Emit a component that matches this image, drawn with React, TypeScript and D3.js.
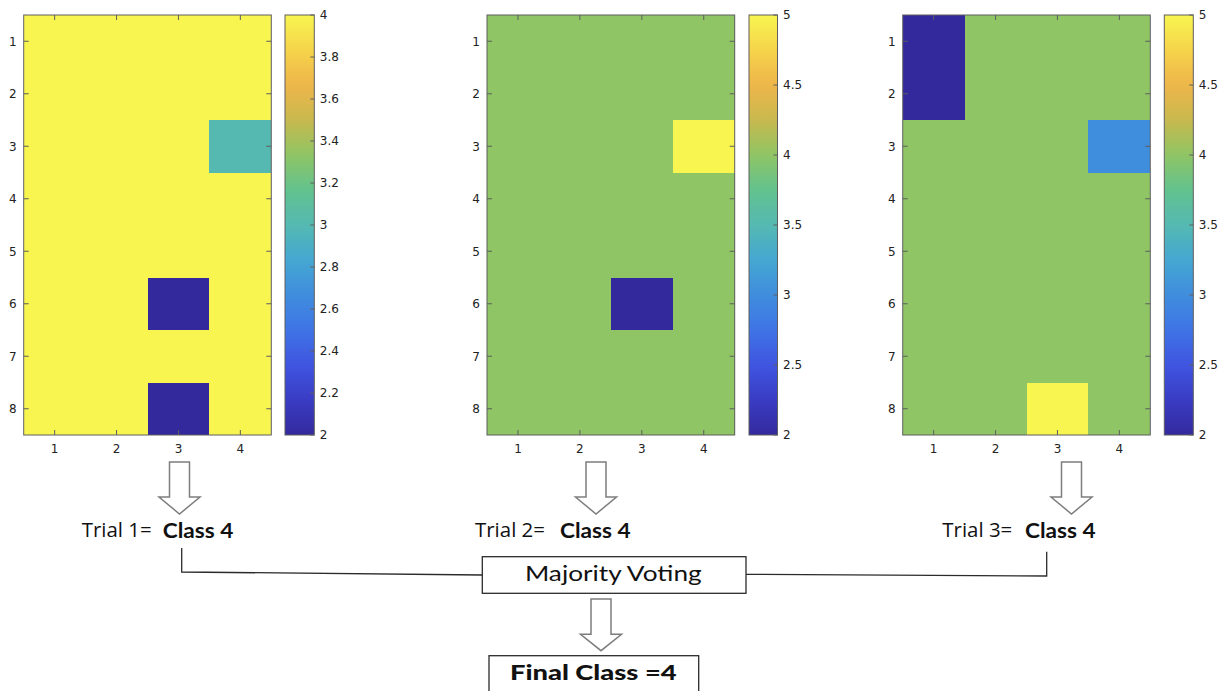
import React from "react";
import * as d3 from "d3";

// ---------- data ----------
const rowLabels = [1, 2, 3, 4, 5, 6, 7, 8];
const colLabels = [1, 2, 3, 4];

const trial1 = [
  [4, 4, 4, 4],
  [4, 4, 4, 4],
  [4, 4, 4, 3],
  [4, 4, 4, 4],
  [4, 4, 4, 4],
  [4, 4, 2, 4],
  [4, 4, 4, 4],
  [4, 4, 2, 4],
];
const trial2 = [
  [4, 4, 4, 4],
  [4, 4, 4, 4],
  [4, 4, 4, 5],
  [4, 4, 4, 4],
  [4, 4, 4, 4],
  [4, 4, 2, 4],
  [4, 4, 4, 4],
  [4, 4, 4, 4],
];
const trial3 = [
  [2, 4, 4, 4],
  [2, 4, 4, 4],
  [4, 4, 4, 3],
  [4, 4, 4, 4],
  [4, 4, 4, 4],
  [4, 4, 4, 4],
  [4, 4, 4, 4],
  [4, 4, 5, 4],
];

const domain1 = [2, 4];
const domain2 = [2, 5];
const domain3 = [2, 5];
const cbTicks1 = [2, 2.2, 2.4, 2.6, 2.8, 3, 3.2, 3.4, 3.6, 3.8, 4];
const cbTicks2 = [2, 2.5, 3, 3.5, 4, 4.5, 5];
const cbTicks3 = [2, 2.5, 3, 3.5, 4, 4.5, 5];

const trialLabels = ["Trial 1=", "Trial 2=", "Trial 3="];
const trialClasses = ["Class 4", "Class 4", "Class 4"];
const votingLabel = "Majority Voting";
const finalLabel = "Final Class =4";

// parula-like colormap
const cmapPos = [0, 0.083, 0.167, 0.25, 0.333, 0.417, 0.5, 0.583, 0.667, 0.75, 0.833, 0.917, 1];
const cmapCol = [
  "#33299c", "#3a3cc4", "#3f55e0", "#3f74e6", "#3f8ddd", "#45a7d2", "#55b9b2",
  "#62c28e", "#8fc564", "#c8b94e", "#eeb54a", "#f5d44a", "#f8f550",
];
const cmap = d3.scaleLinear<string>().domain(cmapPos).range(cmapCol).interpolate(d3.interpolateRgb).clamp(true);

// ---------- layout ----------
const W = 1223;
const H = 691;
const plotTop = 15;
const plotBottom = 435;
const axisCol = "#5e5e5e";
const tickTextCol = "#222";
const tickFont = "'DejaVu Sans', sans-serif";
const tickSize = 12;

const panels = [
  { data: trial1, domain: domain1, ticks: cbTicks1, px: [23.7, 271.3], cx: [285, 314.3] },
  { data: trial2, domain: domain2, ticks: cbTicks2, px: [487, 734.7], cx: [749, 777.5] },
  { data: trial3, domain: domain3, ticks: cbTicks3, px: [902.7, 1150.3], cx: [1164.3, 1193.3] },
];

const arrowCenters = [179.5, 596, 1071.5];

function HollowArrow({ cx, top, headTop, tip }: { cx: number; top: number; headTop: number; tip: number }) {
  const sw = 10;
  const hw = 20.5;
  const pts = [
    [cx - sw, top],
    [cx + sw, top],
    [cx + sw, headTop],
    [cx + hw, headTop],
    [cx, tip],
    [cx - hw, headTop],
    [cx - sw, headTop],
  ];
  return (
    <polygon
      points={pts.map((p) => p.join(",")).join(" ")}
      fill="#fff"
      stroke="#7d7d7d"
      strokeWidth={1.5}
      strokeLinejoin="miter"
    />
  );
}

function Panel({ p, idx }: { p: (typeof panels)[number]; idx: number }) {
  const x = d3.scaleBand<number>().domain(colLabels).range([p.px[0], p.px[1]]);
  const y = d3.scaleBand<number>().domain(rowLabels).range([plotTop, plotBottom]);
  const norm = d3.scaleLinear().domain(p.domain).range([0, 1]);
  const cbY = d3.scaleLinear().domain(p.domain).range([plotBottom, plotTop]);
  const fmt = d3.format("~g");
  const gradId = `cbgrad${idx}`;
  const gradStops = d3.range(0, 1.0001, 0.02);
  const tl = 5;
  return (
    <g>
      <defs>
        <linearGradient id={gradId} x1="0" y1="1" x2="0" y2="0">
          {gradStops.map((t, i) => (
            <stop key={i} offset={t} stopColor={cmap(t)} />
          ))}
        </linearGradient>
      </defs>
      <g shapeRendering="crispEdges">
        {p.data.map((row, ri) =>
          row.map((v, ci) => (
            <rect
              key={`${ri}-${ci}`}
              x={x(colLabels[ci])!}
              y={y(rowLabels[ri])!}
              width={x.bandwidth() + (ci < colLabels.length - 1 ? 1 : 0)}
              height={y.bandwidth() + (ri < rowLabels.length - 1 ? 1 : 0)}
              fill={cmap(norm(v))}
            />
          ))
        )}
      </g>
      {/* ticks inside */}
      {colLabels.map((c) => {
        const cx = x(c)! + x.bandwidth() / 2;
        return (
          <g key={`xt${c}`}>
            <line x1={cx} x2={cx} y1={plotBottom} y2={plotBottom - tl} stroke={axisCol} strokeWidth={1} />
            <line x1={cx} x2={cx} y1={plotTop} y2={plotTop + tl} stroke={axisCol} strokeWidth={1} />
            <text
              x={cx}
              y={452.5}
              textAnchor="middle"
              fontFamily={tickFont}
              fontSize={tickSize}
              fill={tickTextCol}
            >
              {c}
            </text>
          </g>
        );
      })}
      {rowLabels.map((r) => {
        const cy = y(r)! + y.bandwidth() / 2;
        return (
          <g key={`yt${r}`}>
            <line x1={p.px[0]} x2={p.px[0] + tl} y1={cy} y2={cy} stroke={axisCol} strokeWidth={1} />
            <line x1={p.px[1]} x2={p.px[1] - tl} y1={cy} y2={cy} stroke={axisCol} strokeWidth={1} />
            <text
              x={p.px[0] - 7}
              y={cy + 4.3}
              textAnchor="end"
              fontFamily={tickFont}
              fontSize={tickSize}
              fill={tickTextCol}
            >
              {r}
            </text>
          </g>
        );
      })}
      <rect
        x={p.px[0]}
        y={plotTop}
        width={p.px[1] - p.px[0]}
        height={plotBottom - plotTop}
        fill="none"
        stroke={axisCol}
        strokeWidth={1}
      />
      {/* colorbar */}
      <rect
        x={p.cx[0]}
        y={plotTop}
        width={p.cx[1] - p.cx[0]}
        height={plotBottom - plotTop}
        fill={`url(#${gradId})`}
        stroke={axisCol}
        strokeWidth={1}
      />
      {p.ticks.map((t) => (
        <g key={`cb${t}`}>
          <line x1={p.cx[1]} x2={p.cx[1] - 4} y1={cbY(t)} y2={cbY(t)} stroke={axisCol} strokeWidth={1} />
          <text
            x={p.cx[1] + 5.5}
            y={cbY(t) + 4.3}
            fontFamily={tickFont}
            fontSize={tickSize}
            fill={tickTextCol}
          >
            {fmt(t)}
          </text>
        </g>
      ))}
    </g>
  );
}

export default function App() {
  const trialTextX = [81.7, 475, 942.3];
  const classTextX = [162.7, 560, 1025];
  const annFont = "'Open Sans', 'Noto Sans', sans-serif";
  const boldFont = "Lato, 'Open Sans', sans-serif";
  const lineCol = "#2b2b2b";
  return (
    <svg
      width={W}
      height={H}
      viewBox={`0 0 ${W} ${H}`}
      style={{ position: "absolute", left: 0, top: 0, background: "#fff" }}
    >
      <rect x={0} y={0} width={W} height={H} fill="#fff" />
      {panels.map((p, i) => (
        <Panel key={i} p={p} idx={i} />
      ))}

      {arrowCenters.map((c, i) => (
        <HollowArrow key={i} cx={c} top={462} headTop={497} tip={514} />
      ))}

      {trialLabels.map((t, i) => (
        <g key={`tl${i}`}>
          <text
            x={trialTextX[i]}
            y={537.3}
            fontFamily={annFont}
            fontSize={20}
            fill="#111"
            textLength={70}
            lengthAdjust="spacingAndGlyphs"
          >
            {t}
          </text>
          <text
            x={classTextX[i]}
            y={538}
            fontFamily={boldFont}
            fontWeight={700}
            fontSize={21}
            fill="#111"
            textLength={70.6}
            lengthAdjust="spacingAndGlyphs"
          >
            {trialClasses[i]}
          </text>
        </g>
      ))}

      {/* connectors */}
      <polyline
        points="181.7,548 181.7,572 482.3,575"
        fill="none"
        stroke={lineCol}
        strokeWidth={1.3}
      />
      <polyline
        points="1046.7,551.7 1046.7,576 746,574.3"
        fill="none"
        stroke={lineCol}
        strokeWidth={1.3}
      />

      {/* majority voting box */}
      <rect x={482.3} y={556.7} width={263.7} height={36.6} fill="#fff" stroke={lineCol} strokeWidth={1.3} />
      <text
        x={613.3}
        y={580.5}
        textAnchor="middle"
        fontFamily={boldFont}
        fontSize={21}
        fill="#111"
        textLength={176.7}
        lengthAdjust="spacingAndGlyphs"
      >
        {votingLabel}
      </text>

      <HollowArrow cx={601} top={599} headTop={634.3} tip={650.7} />

      {/* final class box */}
      <rect x={489} y={655.7} width={209.7} height={50} fill="#fff" stroke={lineCol} strokeWidth={1.3} />
      <text
        x={593.3}
        y={679.5}
        textAnchor="middle"
        fontFamily={boldFont}
        fontWeight={900}
        fontSize={21}
        fill="#111"
        textLength={166.7}
        lengthAdjust="spacingAndGlyphs"
      >
        {finalLabel}
      </text>
    </svg>
  );
}
